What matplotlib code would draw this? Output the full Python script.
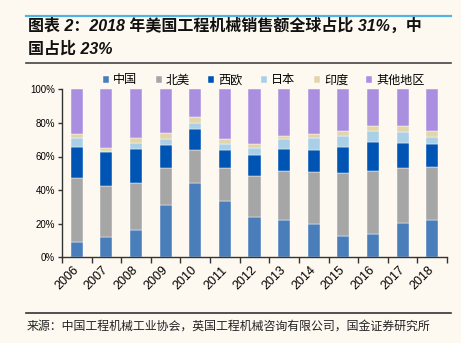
import matplotlib
matplotlib.use("Agg")
import matplotlib.pyplot as plt
import numpy as np
from matplotlib.lines import Line2D
from matplotlib.ticker import FixedLocator, PercentFormatter

years = ["2006", "2007", "2008", "2009", "2010", "2011", "2012",
         "2013", "2014", "2015", "2016", "2017", "2018"]
china = [9.0, 12.0, 16.1, 31.1, 44.2, 33.5, 23.9, 22.5, 19.7, 12.5, 13.7, 20.3, 22.5]
north_america = [38.2, 30.2, 28.3, 22.1, 19.5, 19.7, 24.7, 29.1, 31.1, 37.5, 37.9, 32.6, 31.1]
west_europe = [18.5, 20.7, 20.1, 13.5, 12.4, 10.7, 12.4, 12.7, 12.9, 15.9, 17.1, 15.0, 13.7]
japan = [5.6, 0.4, 3.6, 3.6, 3.6, 3.6, 4.1, 6.0, 7.2, 6.4, 6.6, 6.8, 4.4]
india = [2.0, 2.0, 3.0, 3.8, 3.8, 2.8, 2.4, 2.2, 2.4, 3.0, 3.0, 3.6, 3.6]
others = [26.7, 34.7, 28.9, 25.9, 16.5, 29.7, 32.5, 27.5, 26.7, 24.7, 21.7, 21.7, 24.7]

series_names = ["中国", "北美", "西欧", "日本", "印度", "其他地区"]
series_values = [china, north_america, west_europe, japan, india, others]
colors = ["#4A7EBB", "#A6A6A6", "#0054B4", "#A9D0E6", "#E2D5AA", "#AA8FE0"]

title_line1 = "图表 2：2018 年美国工程机械销售额全球占比 31%，中"
title_line2 = "国占比 23%"
source_text = "来源：中国工程机械工业协会，英国工程机械咨询有限公司，国金证券研究所"

bg = "#FEF9F0"
W, H = 461, 343
fig = plt.figure(figsize=(W / 100, H / 100), dpi=100, facecolor=bg)
ax = fig.add_axes([62 / W, 1 - 257.3 / H, (447 - 62) / W, (257.3 - 89.3) / H])
ax.set_facecolor(bg)

x = np.arange(len(years))
bottom = np.zeros(len(years))
handles = []
for name, vals, c in zip(series_names, series_values, colors):
    v = np.array(vals)
    b = ax.bar(x, v, width=0.41, bottom=bottom, color=c, edgecolor="#FFFFFF",
               linewidth=0.3, label=name)
    handles.append(b)
    bottom += v

ax.set_xlim(-0.5, len(years) - 0.5)
ax.set_ylim(0, 100)
ax.yaxis.set_major_locator(FixedLocator([0, 20, 40, 60, 80, 100]))
ax.yaxis.set_major_formatter(PercentFormatter(decimals=0))
for s in ["top", "right"]:
    ax.spines[s].set_visible(False)
for s in ["left", "bottom"]:
    ax.spines[s].set_color("#333333")
    ax.spines[s].set_linewidth(1.0)

ax.tick_params(axis="y", direction="out", length=3, width=1, color="#333333",
               labelsize=7, pad=2)
for lab in ax.get_yticklabels():
    lab.set_fontfamily("Liberation Sans")

ax.set_xticks(np.arange(-0.5, len(years), 1.0))
ax.set_xticklabels([])
ax.tick_params(axis="x", which="major", direction="out", length=4, width=1, color="#333333")
ax.set_xticks(x, minor=True)
ax.set_xticklabels(years, minor=True, rotation=45, ha="right", va="center",
                   rotation_mode="anchor", fontsize=9, family="Liberation Sans")
ax.tick_params(axis="x", which="minor", length=0, pad=8)

leg = fig.legend(handles=handles, labels=series_names, loc="center",
                 bbox_to_anchor=(264 / W, 1 - 80 / H), ncol=6, frameon=False,
                 prop={"family": ["Noto Sans CJK SC"], "size": 8.7},
                 handlelength=0.5, handleheight=0.5, handletextpad=0.35,
                 columnspacing=1.5, borderpad=0)

# title decoration
fig.add_artist(Line2D([26 / W, 451 / W], [1 - 15.5 / H, 1 - 15.5 / H], color="#4FB3E6", lw=1.6))
fig.add_artist(Line2D([26 / W, 451 / W], [1 - 62.5 / H, 1 - 62.5 / H], color="#444444", lw=1.2))
fig.add_artist(Line2D([26 / W, 451 / W], [1 - 313 / H, 1 - 313 / H], color="#333333", lw=1.2))

tfam = ["Liberation Sans", "Noto Sans CJK SC"]
fig.text(28 / W, 1 - 25.5 / H, title_line1, fontsize=11.5, fontweight="bold",
         style="italic", family=tfam, va="center", ha="left", color="#111111")
fig.text(28 / W, 1 - 49 / H, title_line2, fontsize=11.5, fontweight="bold",
         style="italic", family=tfam, va="center", ha="left", color="#111111")
fig.text(27 / W, 1 - 326 / H, source_text, fontsize=8.6,
         family=["Noto Sans CJK SC"], va="center", ha="left", color="#222222")

fig.savefig("out.png", dpi=100, facecolor=bg)
